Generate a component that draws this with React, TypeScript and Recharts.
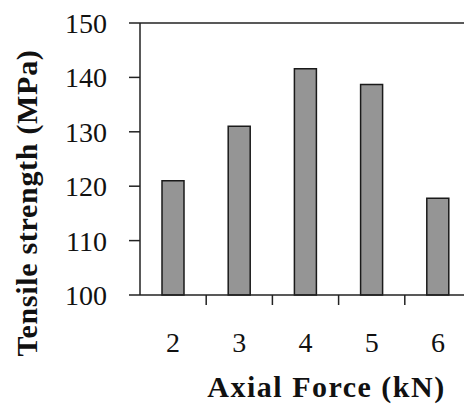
import { BarChart, Bar, XAxis, YAxis, ReferenceLine } from "recharts";

const forces = ["2", "3", "4", "5", "6"];
const strength = [121, 131, 141.6, 138.7, 117.8];
const yTicks = [100, 110, 120, 130, 140, 150];

const data = forces.map((f, i) => ({ force: f, strength: strength[i] }));

const FONT = '"Liberation Serif", "DejaVu Serif", "Times New Roman", serif';

function ForceTick(props: any) {
  const { x, y, payload } = props;
  const half = payload.offset || 0;
  return (
    <g>
      <line
        x1={x + half}
        x2={x + half}
        y1={y}
        y2={y + 10}
        stroke="#222"
        strokeWidth={1.5}
      />
      <text
        x={x}
        y={y + 57}
        textAnchor="middle"
        style={{ fontFamily: FONT, fontSize: 28 }}
        fill="#111"
      >
        {payload.value}
      </text>
    </g>
  );
}

export default function App() {
  return (
    <div style={styles.frame}>
      <BarChart
        width={480}
        height={405}
        data={data}
        margin={{ top: 23, right: 9, bottom: 0, left: 0 }}
        barCategoryGap={0}
        style={{ fontFamily: FONT }}
      >
        <ReferenceLine y={150} stroke="#222" strokeWidth={1.5} />
        <XAxis
          dataKey="force"
          height={110}
          tickSize={0}
          tickMargin={0}
          tickLine={false}
          axisLine={{ stroke: "#222", strokeWidth: 1.5 }}
          tick={<ForceTick />}
          interval={0}
          label={{
            content: (p: any) => {
              const vb = p.viewBox;
              return (
                <text
                  x={vb.x + vb.width / 2 + 21}
                  y={vb.y + 102}
                  textAnchor="middle"
                  style={{
                    fontFamily: FONT,
                    fontWeight: "bold",
                    fontSize: 30,
                    letterSpacing: 1.5,
                  }}
                  fill="#111"
                >
                  Axial Force (kN)
                </text>
              );
            },
          }}
        />
        <YAxis
          type="number"
          domain={[100, 150]}
          ticks={yTicks}
          width={140}
          tickSize={11}
          tickMargin={22}
          interval={0}
          axisLine={{ stroke: "#222", strokeWidth: 1.5 }}
          tickLine={{ stroke: "#222", strokeWidth: 1.5 }}
          tick={{ style: { fontFamily: FONT, fontSize: 28 }, fill: "#111" }}
          label={{
            content: (p: any) => {
              const vb = p.viewBox;
              const cx = 26;
              const cy = vb.y + vb.height / 2 + 44;
              return (
                <text
                  x={cx}
                  y={cy}
                  transform={`rotate(-90 ${cx} ${cy})`}
                  textAnchor="middle"
                  dominantBaseline="central"
                  style={{
                    fontFamily: FONT,
                    fontWeight: "bold",
                    fontSize: 30,
                    letterSpacing: 0.7,
                  }}
                  fill="#111"
                >
                  Tensile strength (MPa)
                </text>
              );
            },
          }}
        />
        <Bar
          dataKey="strength"
          barSize={22}
          fill="#959595"
          stroke="#1a1a1a"
          strokeWidth={1.5}
          isAnimationActive={false}
        />
      </BarChart>
    </div>
  );
}

const styles: any = {
  frame: {
    position: "absolute",
    left: 0,
    top: 0,
    width: 464,
    height: 405,
    overflow: "hidden",
    background: "white",
  },
};
